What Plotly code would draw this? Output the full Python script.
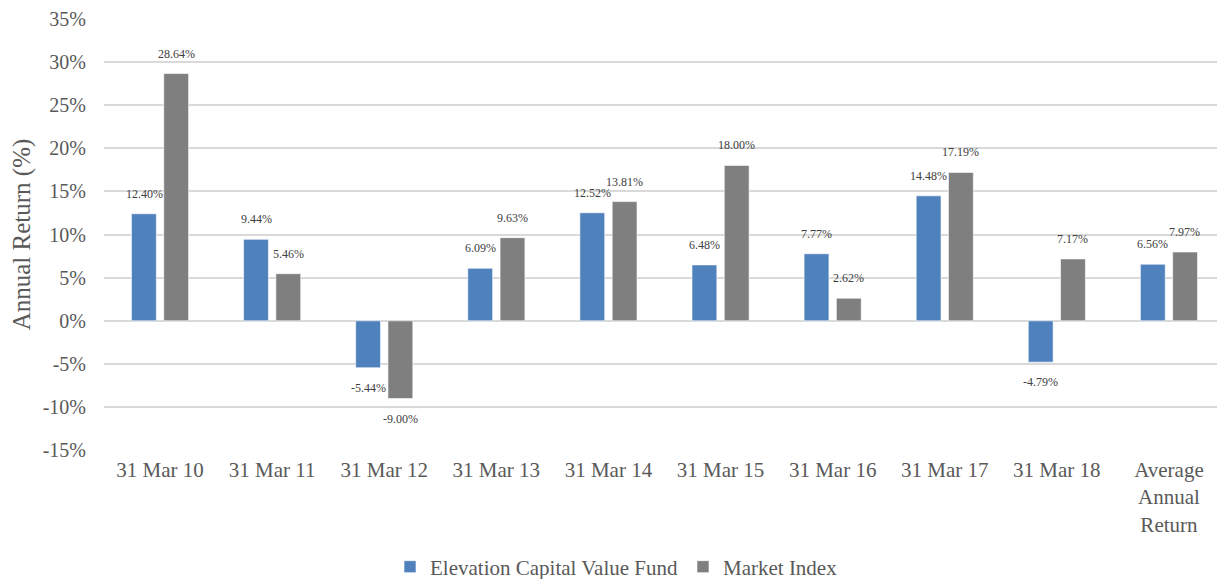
import plotly.graph_objects as go

categories = ["31 Mar 10", "31 Mar 11", "31 Mar 12", "31 Mar 13", "31 Mar 14",
              "31 Mar 15", "31 Mar 16", "31 Mar 17", "31 Mar 18", "Average<br>Annual<br>Return"]
fund = [12.40, 9.44, -5.44, 6.09, 12.52, 6.48, 7.77, 14.48, -4.79, 6.56]
index_ = [28.64, 5.46, -9.00, 9.63, 13.81, 18.00, 2.62, 17.19, 7.17, 7.97]
series_names = ["Elevation Capital Value Fund", "Market Index"]
colors = ["#4F81BD", "#7F7F7F"]
ytick_vals = list(range(-15, 40, 5))
ytick_text = [f"{v}%" for v in ytick_vals]

FONT = "Liberation Serif"
fig = go.Figure()
for name, vals, col in zip(series_names, [fund, index_], colors):
    fig.add_trace(go.Bar(x=categories, y=vals, name=name, marker_color=col,
                         marker_line=dict(color="rgba(255,255,255,0.6)", width=1)))

for k, vals in enumerate([fund, index_]):
    off = -16 if k == 0 else 16
    for c, v in zip(categories, vals):
        fig.add_annotation(x=c, y=v, text=f"{v:.2f}%", showarrow=False,
                           xshift=off, yshift=20 if v >= 0 else -20,
                           font=dict(family=FONT, size=12, color="#404040"))

fig.update_layout(
    width=1217, height=571,
    margin=dict(l=96, r=0, t=10, b=128, autoexpand=False),
    paper_bgcolor="white", plot_bgcolor="white",
    barmode="group", bargap=0.424, bargroupgap=0.23,
    font=dict(family=FONT, color="#595959", size=20),
    showlegend=True,
    legend=dict(orientation="h", x=0.5, xanchor="center", xref="container",
                y=0.021, yanchor="middle", yref="container",
                font=dict(family=FONT, size=21, color="#595959")),
    xaxis=dict(showgrid=False, tickfont=dict(size=21), showline=False, ticks="",
               automargin=False, tickangle=0, ticklabelstandoff=4),
    yaxis=dict(range=[-15.08, 35.08], tickvals=ytick_vals, ticktext=ytick_text,
               showgrid=True, gridcolor="#D9D9D9", gridwidth=1.5,
               zeroline=True, zerolinecolor="#D9D9D9", zerolinewidth=1.5,
               tickfont=dict(size=20), ticklabelstandoff=17, automargin=False,
               ticklabeloverflow="allow",
               title=dict(text="Annual Return (%)", font=dict(size=25, color="#595959"), standoff=7)),
)
fig.write_html("out.html")
